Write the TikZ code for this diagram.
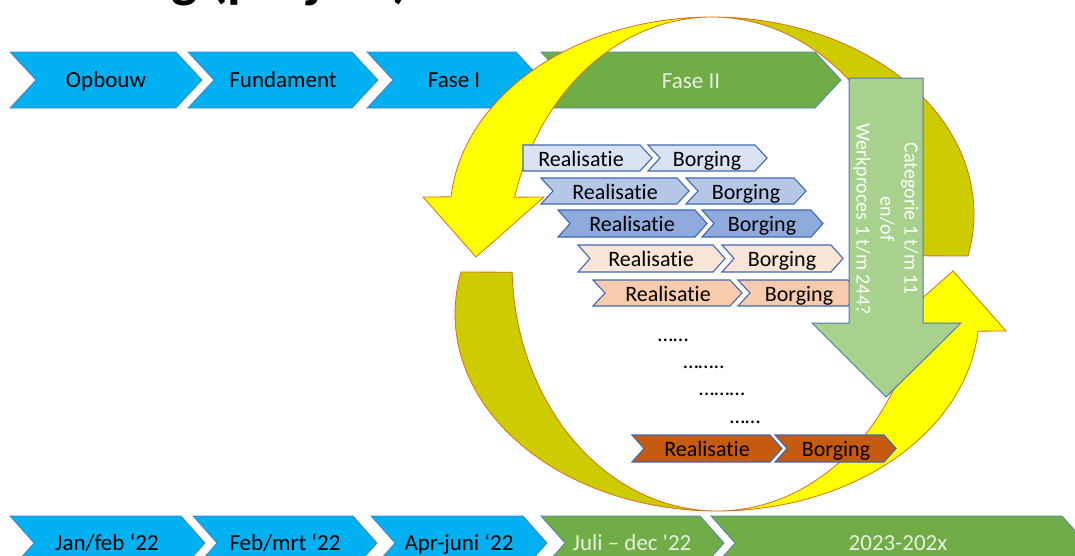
\documentclass[tikz,border=0pt]{standalone}
\usepackage{fontspec}
\setmainfont{Carlito}[Ligatures={TeXOff,NoCommon}]
\definecolor{cblue}{RGB}{0,176,240}
\definecolor{cedge}{RGB}{84,128,192}
\definecolor{cgreen}{RGB}{112,173,71}
\definecolor{clight}{RGB}{232,238,224}
\definecolor{cyel}{RGB}{255,255,0}
\definecolor{colive}{RGB}{204,204,0}
\definecolor{cyeledge}{RGB}{214,112,30}
\definecolor{cgarrow}{RGB}{169,209,142}
\definecolor{cgarrowedge}{RGB}{84,120,180}
\definecolor{crowedge}{RGB}{66,104,178}
\definecolor{rowa}{RGB}{218,227,243}
\definecolor{rowb}{RGB}{180,199,231}
\definecolor{rowc}{RGB}{143,170,220}
\definecolor{rowd}{RGB}{251,229,214}
\definecolor{rowe}{RGB}{248,203,173}
\definecolor{rowf}{RGB}{197,90,17}
\newcommand\chevpath[6]{\path[#1] (#2,#4) -- (#3,#4) -- ({#3+#6},{(#4+#5)/2}) -- (#3,#5) -- (#2,#5) -- ({#2+#6},{(#4+#5)/2}) -- cycle;}
\newcommand\cyclearrow{%
  \path[olivefill] plot[domain=90:-12.3,samples=60] ({712+262*cos(\x)},{214-197*sin(\x)})
    -- plot[domain=1.9:90,samples=60] ({712+205*cos(\x)},{264-247*sin(\x)}) -- cycle;
  \path[yellowfill] plot[domain=90:175,samples=60] ({712+262*cos(\x)},{214-197*sin(\x)})
    -- (423,197) -- (476,257) -- (544,197)
    -- plot[domain=164.3:90,samples=60] ({712+205*cos(\x)},{264-247*sin(\x)}) -- cycle;
}
\begin{document}
\begin{tikzpicture}[x=1pt,y=-1pt,
  bluechev/.style={fill=cblue,draw=cedge,line width=0.8pt},
  greenchev/.style={fill=cgreen,draw=cedge,line width=0.8pt},
  bigtext/.style={font=\fontsize{23}{27}\selectfont,text=black,inner sep=0pt,anchor=base},
  lighttext/.style={font=\fontsize{23}{27}\selectfont,text=clight,inner sep=0pt,anchor=base},
  rowtext/.style={font=\fontsize{22}{26}\selectfont,text=black,inner sep=0pt,anchor=base},
  dotstext/.style={font=\fontsize{22}{26}\selectfont,text=black,inner sep=0pt,anchor=base},
  olivefill/.style={fill=colive,draw=cyeledge,line width=0.8pt},
  yellowfill/.style={fill=cyel,draw=cyeledge,line width=0.8pt},
  rowchev/.style={draw=crowedge,line width=1.1pt,fill=#1},
  garrow/.style={fill=cgarrow,draw=cgarrowedge,line width=1pt}]
\useasboundingbox (0,0) rectangle (1075,555);
\clip (0,0) rectangle (1075,555);
\fill[white] (0,0) rectangle (1075,555);
% title fragment (cut off at the top edge, as in the reference)
\node[font=\fontsize{56}{60}\bfseries\selectfont,anchor=base east,inner sep=0pt] (title) at (410,-4) {Planning (project)};
% top row
\chevpath{bluechev}{10}{176}{52}{108}{26}
\node[bigtext] (opbouw) at (106,87) {Opbouw};
\chevpath{bluechev}{188}{352}{52}{108}{26}
\node[bigtext] (fundament) at (283,87) {Fundament};
\chevpath{bluechev}{367}{516}{52}{108}{26}
\node[bigtext] (fase1) at (454,87) {Fase I};
\chevpath{greenchev}{541}{815}{52}{108}{26}
\node[lighttext] (fase2) at (691,88) {Fase II};
% bottom row
\chevpath{bluechev}{10}{181}{516}{570}{24}
\node[bigtext] (t1) at (107,550) {Jan/feb ‘22};
\chevpath{bluechev}{193}{353}{516}{570}{24}
\node[bigtext] (t2) at (285,550) {Feb/mrt ‘22};
\chevpath{bluechev}{371}{523}{516}{570}{24}
\node[bigtext] (t3) at (459,550) {Apr-juni ‘22};
\chevpath{greenchev}{541}{700}{516}{570}{24}
\node[lighttext] (t4) at (632,550) {Juli – dec '22};
\chevpath{greenchev}{711}{1062}{516}{570}{24}
\node[lighttext] (t5) at (898,550) {2023-202x};
% cycle arrows
\cyclearrow
\begin{scope}[rotate around={180:(714.5,264)}]
\cyclearrow
\end{scope}
% rows
\path[rowchev=rowa] (523,145) -- (640,145) -- (652,158) -- (640,171) -- (523,171) -- cycle;
\node[rowtext] (r1) at (581,166) {Realisatie};
\chevpath{rowchev=rowa}{648}{755}{145}{171}{12}
\node[rowtext] (b1) at (707,166) {Borging};
\chevpath{rowchev=rowb}{541}{677}{178}{204}{12}
\node[rowtext] (r2) at (615,199) {Realisatie};
\chevpath{rowchev=rowb}{686}{794}{178}{204}{12}
\node[rowtext] (b2) at (746,199) {Borging};
\chevpath{rowchev=rowc}{558}{695}{210}{237}{12}
\node[rowtext] (r3) at (632,231) {Realisatie};
\chevpath{rowchev=rowc}{702}{811}{210}{237}{12}
\node[rowtext] (b3) at (762,231) {Borging};
\chevpath{rowchev=rowd}{578}{713}{245}{272}{12}
\node[rowtext] (r4) at (651,266) {Realisatie};
\chevpath{rowchev=rowd}{722}{831}{245}{272}{12}
\node[rowtext] (b4) at (782,266) {Borging};
\chevpath{rowchev=rowe}{593}{730}{280}{306}{12}
\node[rowtext] (r5) at (668,301) {Realisatie};
\chevpath{rowchev=rowe}{738}{848}{280}{306}{12}
\node[rowtext] (b5) at (799,301) {Borging};
\chevpath{rowchev=rowf}{632}{770}{435}{462}{12}
\node[rowtext] (r6) at (707,456) {Realisatie};
\chevpath{rowchev=rowf}{775}{884}{435}{462}{12}
\node[rowtext] (b6) at (836,456) {Borging};
% dots
\node[dotstext] (d1) at (673,341) {……};
\node[dotstext] (d2) at (704,368) {……..};
\node[dotstext] (d3) at (722,395) {………};
\node[dotstext] (d4) at (745,423) {……};
% green down arrow
\path[garrow] (849,78) -- (923,78) -- (923,323) -- (961,323) -- (886,397) -- (812,323) -- (849,323) -- cycle;
\node[rotate=-90,align=center,text=white,font=\fontsize{20}{24}\selectfont,inner sep=0pt] (cat) at (886,219) {Categorie 1 t/m 11\\en/of\\Werkproces 1 t/m 244?};
\end{tikzpicture}
\end{document}
